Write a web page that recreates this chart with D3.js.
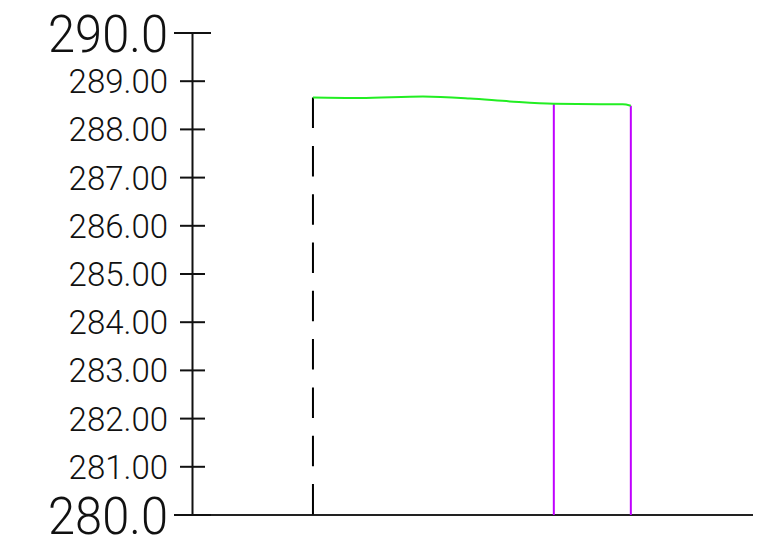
<!DOCTYPE html>
<html>
<head>
<meta charset="utf-8">
<script src="https://cdn.jsdelivr.net/npm/d3@7"></script>
<style>
html,body{margin:0;padding:0;background:#fff;}
svg{display:block;}
</style>
</head>
<body>
<svg id="chart" width="776" height="545"></svg>
<script>
// ---- data ----
const yDomain = [280, 290];
const minorTicks = [281, 282, 283, 284, 285, 286, 287, 288, 289];
const majorTicks = [280, 290];
const profileStations = [24.0, 32.1, 43.0, 51.1, 58.0, 65.6, 73.6, 77.5, 78.9];
const profileElev = [288.66, 288.65, 288.68, 288.64, 288.58, 288.53, 288.52, 288.52, 288.49];
const dashedStations = [24.0];
const purpleStations = [65.6, 78.9];
const xDomain = [0, 100];

const svg = d3.select("#chart");
const axisX = 192.5;
const y = d3.scaleLinear().domain(yDomain).range([515, 33]);
const x = d3.scaleLinear().domain(xDomain).range([174, 753]);
const font = "Roboto, 'Liberation Sans', sans-serif";

// profile interpolation for vertical line tops
function elevAt(s){
  const i = d3.bisectLeft(profileStations, s);
  if (i <= 0) return profileElev[0];
  if (i >= profileStations.length) return profileElev[profileElev.length-1];
  const s0 = profileStations[i-1], s1 = profileStations[i];
  const t = (s - s0)/(s1 - s0);
  return profileElev[i-1] + t*(profileElev[i]-profileElev[i-1]);
}

// baseline
svg.append("line")
  .attr("x1", x(xDomain[0])).attr("x2", x(xDomain[1]))
  .attr("y1", y(yDomain[0])).attr("y2", y(yDomain[0]))
  .attr("stroke", "#222").attr("stroke-width", 2);

// vertical axis
svg.append("line")
  .attr("x1", axisX).attr("x2", axisX)
  .attr("y1", y(yDomain[1])).attr("y2", y(yDomain[0]))
  .attr("stroke", "#111").attr("stroke-width", 2);

// major ticks
svg.selectAll(".major").data(majorTicks).enter().append("line")
  .attr("x1", axisX - 18.5).attr("x2", axisX + 18.5)
  .attr("y1", d => y(d)).attr("y2", d => y(d))
  .attr("stroke", "#111").attr("stroke-width", 2);

// minor ticks
svg.selectAll(".minor").data(minorTicks).enter().append("line")
  .attr("x1", axisX - 12.5).attr("x2", axisX + 12.5)
  .attr("y1", d => y(d)).attr("y2", d => y(d))
  .attr("stroke", "#111").attr("stroke-width", 2);

// minor labels
svg.selectAll(".minorLabel").data(minorTicks).enter().append("text")
  .attr("x", 168).attr("y", d => y(d) + 12)
  .attr("text-anchor", "end")
  .attr("font-family", font).attr("font-weight", 300)
  .attr("font-size", 33).attr("fill", "#111")
  .text(d => d.toFixed(2));

// major labels
svg.selectAll(".majorLabel").data(majorTicks).enter().append("text")
  .attr("x", 168).attr("y", d => y(d) + 18.5)
  .attr("text-anchor", "end")
  .attr("font-family", font).attr("font-weight", 300)
  .attr("font-size", 52).attr("fill", "#111")
  .attr("textLength", 120).attr("lengthAdjust", "spacingAndGlyphs")
  .text(d => d.toFixed(1));

// dashed vertical line
svg.selectAll(".dashed").data(dashedStations).enter().append("line")
  .attr("x1", d => x(d)).attr("x2", d => x(d))
  .attr("y1", d => y(elevAt(d))).attr("y2", y(yDomain[0]))
  .attr("stroke", "#000").attr("stroke-width", 2)
  .attr("stroke-dasharray", "30.5,17.8");

// purple vertical lines
svg.selectAll(".purple").data(purpleStations).enter().append("line")
  .attr("x1", d => x(d)).attr("x2", d => x(d))
  .attr("y1", d => y(elevAt(d))).attr("y2", y(yDomain[0]))
  .attr("stroke", "#c000ff").attr("stroke-width", 2);

// green profile
const line = d3.line()
  .x((d, i) => x(profileStations[i]))
  .y(d => y(d))
  .curve(d3.curveMonotoneX);
svg.append("path")
  .datum(profileElev)
  .attr("d", line)
  .attr("fill", "none")
  .attr("stroke", "#22ee22").attr("stroke-width", 2);
</script>
</body>
</html>
